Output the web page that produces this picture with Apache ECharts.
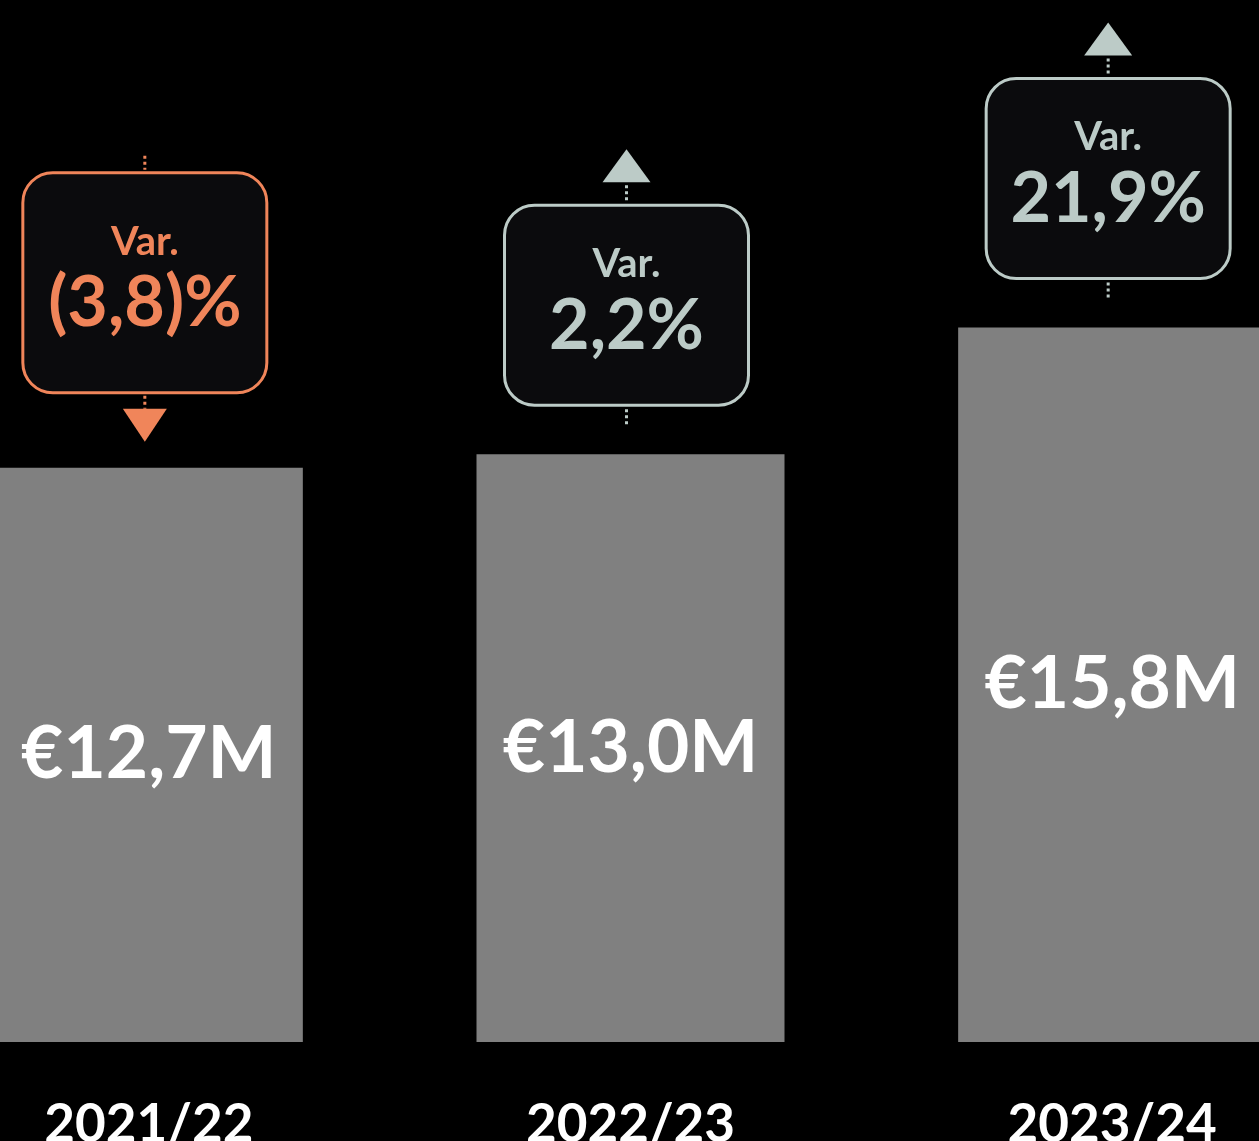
<!DOCTYPE html>
<html>
<head>
<meta charset="utf-8">
<title>Revenue</title>
<script src="https://cdn.jsdelivr.net/npm/echarts@6/dist/echarts.min.js"></script>
<style>
  html, body { margin: 0; padding: 0; background: #000; }
  #main { width: 1259px; height: 1141px; }
</style>
</head>
<body>
<div id="main"></div>
<script>
// data
var categories = ['2021/22', '2022/23', '2023/24'];
var revenue = [12.7, 13.0, 15.8];
var valueLabels = ['€12,7M', '€13,0M', '€15,8M'];
var variation = ['(3,8)%', '2,2%', '21,9%'];
var direction = [-1, 1, 1]; // -1 = down, 1 = up

var ORANGE = '#f0855a';
var SAGE = '#bccbc7';
var FONT = 'Lato, "Open Sans", sans-serif';

var myChart = echarts.init(document.getElementById('main'));

// callout box with arrow above each bar
function renderVar(params, api) {
	var i = api.value(0);
	var pt = api.coord([i, api.value(1)]);
	var x = pt[0] - 4, y = pt[1];
	var down = direction[i] < 0;
	var color = down ? ORANGE : SAGE;
	var boxH = down ? 220 : 200;
	var boxBottom = down ? y - 75 : y - 49;
	var boxTop = boxBottom - boxH;
	var cy = (boxTop + boxBottom) / 2;
	var dash = { stroke: color, lineWidth: 3, lineDash: [3, 3], fill: null };
	var children = [
		{
			type: 'rect',
			shape: { x: x - 122, y: boxTop, width: 244, height: boxH, r: 30 },
			style: { fill: '#0b0b0d', stroke: color, lineWidth: 3 }
		},
		{
			type: 'text', x: x, y: cy - 41,
			style: { text: 'Var.', fill: color, font: 'bold 40px ' + FONT, align: 'center', verticalAlign: 'middle' }
		},
		{
			type: 'text', x: x, y: cy + 21,
			style: { text: variation[i], fill: color, font: 'bold 70px ' + FONT, align: 'center', verticalAlign: 'middle' }
		}
	];
	if (down) {
		children.push({ type: 'line', shape: { x1: x, y1: boxTop - 17, x2: x, y2: boxTop - 3 }, style: dash });
		children.push({ type: 'line', shape: { x1: x, y1: boxBottom + 3, x2: x, y2: boxBottom + 16 }, style: dash });
		children.push({ type: 'polygon', shape: { points: [[x - 22, y - 59], [x + 22, y - 59], [x, y - 26]] }, style: { fill: color } });
	} else {
		children.push({ type: 'line', shape: { x1: x, y1: boxBottom + 4, x2: x, y2: boxBottom + 22 }, style: dash });
		children.push({ type: 'line', shape: { x1: x, y1: boxTop - 20, x2: x, y2: boxTop - 2 }, style: dash });
		children.push({ type: 'polygon', shape: { points: [[x - 24, boxTop - 23], [x + 24, boxTop - 23], [x, boxTop - 56]] }, style: { fill: color } });
	}
	return { type: 'group', children: children };
}

var option = {
	backgroundColor: '#000',
	animation: false,
	grid: { left: -92, right: -94, top: 2, bottom: 99, outerBoundsMode: 'none', containLabel: false },
	xAxis: {
		type: 'category',
		data: categories,
		axisLine: { show: false },
		axisTick: { show: false },
		axisLabel: {
			color: '#fff',
			fontSize: 53,
			fontWeight: 'bold',
			fontFamily: FONT,
			margin: 56
		}
	},
	yAxis: { type: 'value', min: 0, max: 23, show: false, splitLine: { show: false } },
	series: [
		{
			name: 'revenue',
			type: 'bar',
			data: revenue,
			barWidth: 308,
			itemStyle: { color: '#808080' },
			label: {
				show: true,
				position: 'inside',
				formatter: function (p) { return valueLabels[p.dataIndex]; },
				color: '#fff',
				fontSize: 73,
				fontWeight: 'bold',
				fontFamily: FONT
			}
		},
		{
			name: 'variation',
			type: 'custom',
			renderItem: renderVar,
			data: revenue.map(function (v, i) { return [i, v]; }),
			z: 5
		}
	]
};
myChart.setOption(option);
</script>
</body>
</html>
